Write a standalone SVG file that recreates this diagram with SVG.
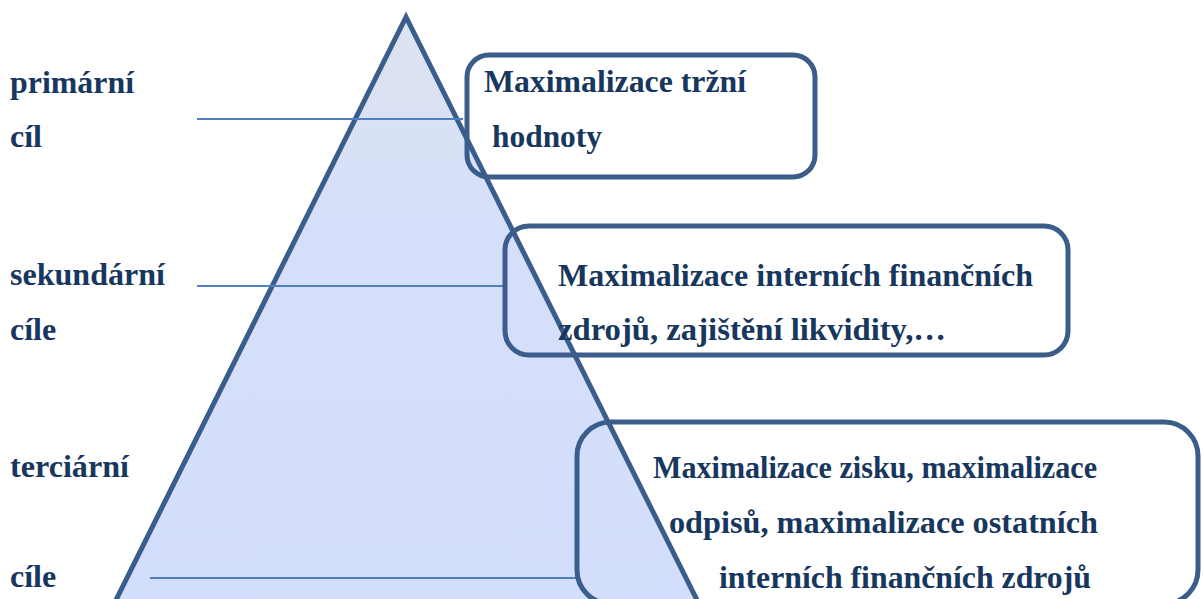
<svg xmlns="http://www.w3.org/2000/svg" width="1203" height="599" viewBox="0 0 1203 599">
  <defs>
    <linearGradient id="triFill" x1="0" y1="0" x2="0" y2="1">
      <stop offset="0" stop-color="#dde3ef"/>
      <stop offset="0.35" stop-color="#d5dff9"/>
      <stop offset="1" stop-color="#d3defc"/>
    </linearGradient>
  </defs>
  <style>
    .lbl { font-family: "Liberation Serif", "Times New Roman", serif; font-weight: bold; font-size: 32px; fill: #17375e; }
    .box { fill: none; stroke: #3a5d8b; stroke-width: 5; }
    .conn { stroke: #4f7fbd; stroke-width: 2; fill: none; }
    .tri { fill: url(#triFill); stroke: #3a5d8b; stroke-width: 5; stroke-linejoin: miter; }
  </style>
  <rect width="1203" height="599" fill="#ffffff"/>
  <g id="pyramid">
    <polygon class="tri" points="406,17 112,608 701,608"/>
  </g>
  <g id="connectors">
    <line class="conn" x1="197" y1="119" x2="463" y2="119"/>
    <line class="conn" x1="197" y1="286" x2="504" y2="286"/>
    <line class="conn" x1="150" y1="578" x2="576" y2="578"/>
  </g>
  <g id="labels">
    <text class="lbl" x="10" y="93" textLength="124" lengthAdjust="spacingAndGlyphs">primární</text>
    <text class="lbl" x="10" y="147">cíl</text>
    <text class="lbl" x="10" y="285" textLength="155" lengthAdjust="spacingAndGlyphs">sekundární</text>
    <text class="lbl" x="10" y="340">cíle</text>
    <text class="lbl" x="10" y="477" textLength="119" lengthAdjust="spacingAndGlyphs">terciární</text>
    <text class="lbl" x="10" y="587">cíle</text>
  </g>
  <g id="box-primary">
    <rect class="box" x="467" y="55" width="348" height="122" rx="22" ry="22"/>
    <text class="lbl" x="484" y="92" textLength="262" lengthAdjust="spacingAndGlyphs">Maximalizace tržní</text>
    <text class="lbl" x="492" y="147" textLength="110" lengthAdjust="spacingAndGlyphs">hodnoty</text>
  </g>
  <g id="box-secondary">
    <rect class="box" x="505" y="226" width="563" height="129" rx="24" ry="24"/>
    <text class="lbl" x="558" y="286" textLength="475" lengthAdjust="spacingAndGlyphs">Maximalizace interních finančních</text>
    <text class="lbl" x="558" y="340" textLength="388" lengthAdjust="spacingAndGlyphs">zdrojů,  zajištění likvidity,…</text>
  </g>
  <g id="box-tertiary">
    <rect class="box" x="577" y="422" width="621" height="182" rx="34" ry="34"/>
    <text class="lbl" x="653" y="478" textLength="444" lengthAdjust="spacingAndGlyphs">Maximalizace zisku, maximalizace</text>
    <text class="lbl" x="669" y="533" textLength="429" lengthAdjust="spacingAndGlyphs">odpisů, maximalizace ostatních</text>
    <text class="lbl" x="719" y="588" textLength="372" lengthAdjust="spacingAndGlyphs">interních finančních zdrojů</text>
  </g>
</svg>
